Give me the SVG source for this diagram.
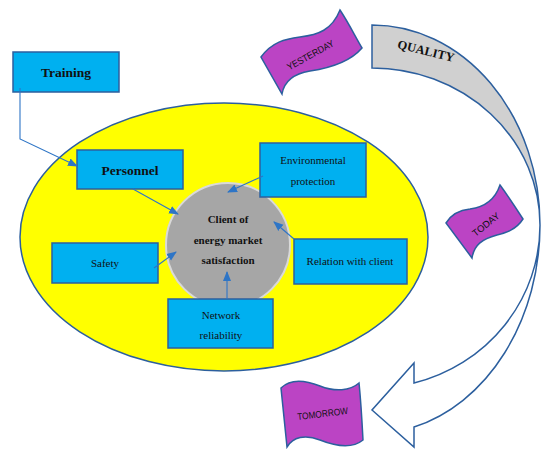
<svg xmlns="http://www.w3.org/2000/svg" width="550" height="458" viewBox="0 0 550 458">
<style>
.box{fill:#00b0f0;stroke:#2c5f9e;stroke-width:1.5}
.flag{fill:#bb44c4;stroke:#2c5f9e;stroke-width:1.5}
.con{fill:none;stroke:#2e75c6;stroke-width:1.1;marker-end:url(#ah)}
.bt{font-family:"Liberation Serif","Times New Roman",serif;font-weight:bold;fill:#111;text-anchor:middle}
.rt{font-family:"Liberation Serif","Times New Roman",serif;fill:#111;text-anchor:middle;font-size:11px}
.ft{font-family:"Liberation Sans",Arial,sans-serif;fill:#111;text-anchor:middle;font-size:9.5px}
</style>
<defs>
<marker id="ah" markerUnits="userSpaceOnUse" markerWidth="10" markerHeight="10" viewBox="0 0 10 10" refX="9" refY="5" orient="auto">
<path d="M0,1 L10,5 L0,9 Z" fill="#2e75c6"/>
</marker>
</defs>
<rect width="550" height="458" fill="#fff"/>

<g id="ellipse">
<ellipse cx="224" cy="237" rx="204" ry="134" fill="#ffff00" stroke="#2c5f9e" stroke-width="1.5"/>
</g>

<g id="quality-arrow">
<path d="M372,25 A168,200 0 0 1 540,225 A168,157 0 0 0 372,68 Z" fill="#d0d0d0" stroke="#2c5f9e" stroke-width="1.5"/>
<path d="M540,225 A168,209 0 0 1 414,427 L414,447 L372,410 L414,363 L414,383 A168,163 0 0 0 540,225 Z" fill="#fff" stroke="#2c5f9e" stroke-width="1.5"/>
<text class="bt" font-size="12.5" transform="translate(425,55) rotate(14)">QUALITY</text>
</g>

<g id="training">
<rect class="box" x="13" y="52" width="106" height="40"/>
<text class="bt" font-size="13.5" x="66" y="77">Training</text>
</g>

<g id="personnel">
<rect class="box" x="77" y="150" width="106" height="39"/>
<text class="bt" font-size="13.5" x="130" y="175">Personnel</text>
</g>

<g id="client">
<circle cx="228" cy="245" r="62" fill="#a6a6a6" stroke="#d9d9d9" stroke-width="2"/>
<text class="bt" font-size="11" x="228" y="223">Client of</text>
<text class="bt" font-size="11" x="228" y="244">energy market</text>
<text class="bt" font-size="11" x="228" y="264">satisfaction</text>
</g>

<g id="environmental">
<rect class="box" x="260" y="143" width="106" height="54"/>
<text class="rt" x="313" y="164">Environmental</text>
<text class="rt" x="313" y="185">protection</text>
</g>

<g id="safety">
<rect class="box" x="52" y="243" width="106" height="40"/>
<text class="rt" x="105" y="267">Safety</text>
</g>

<g id="relation">
<rect class="box" x="294" y="239" width="113" height="45"/>
<text class="rt" x="350" y="265">Relation with client</text>
</g>

<g id="network">
<rect class="box" x="168" y="299" width="105" height="49"/>
<text class="rt" x="221" y="319">Network</text>
<text class="rt" x="221" y="339">reliability</text>
</g>

<g id="yesterday">
<path class="flag" d="M261,57 C272,42 285,39 300,37 C318,35 332,30 340,10 C348,22 355,36 362,48 C350,62 330,68 310,71 C292,74 284,82 282,94 Z"/>
<text class="ft" textLength="52" lengthAdjust="spacingAndGlyphs" transform="translate(312,58) rotate(-29)">YESTERDAY</text>
</g>

<g id="today">
<path class="flag" d="M446,223 C452,213 460,210 470,209 C485,207 495,200 500,185 C508,196 516,208 523,219 C516,230 505,233 497,235 C482,239 474,245 472,258 Z"/>
<text class="ft" textLength="32" lengthAdjust="spacingAndGlyphs" transform="translate(488,227) rotate(-39)">TODAY</text>
</g>

<g id="tomorrow">
<path class="flag" d="M281,388 C290,379 305,380 320,386 C335,392 350,391 359,383 C361,402 362,421 363,440 C352,449 335,446 320,440 C305,434 293,437 287,447 Z"/>
<text class="ft" textLength="51" lengthAdjust="spacingAndGlyphs" transform="translate(323,417) rotate(-7)">TOMORROW</text>
</g>

<g id="connectors">
<polyline class="con" points="20,88 20,139 77,166"/>
<line class="con" x1="133" y1="189" x2="178" y2="214"/>
<line class="con" x1="263" y1="176" x2="228" y2="192"/>
<line class="con" x1="294" y1="239" x2="274" y2="222"/>
<line class="con" x1="154" y1="268" x2="176" y2="252"/>
<line class="con" x1="227" y1="299" x2="227" y2="272"/>
</g>
</svg>
